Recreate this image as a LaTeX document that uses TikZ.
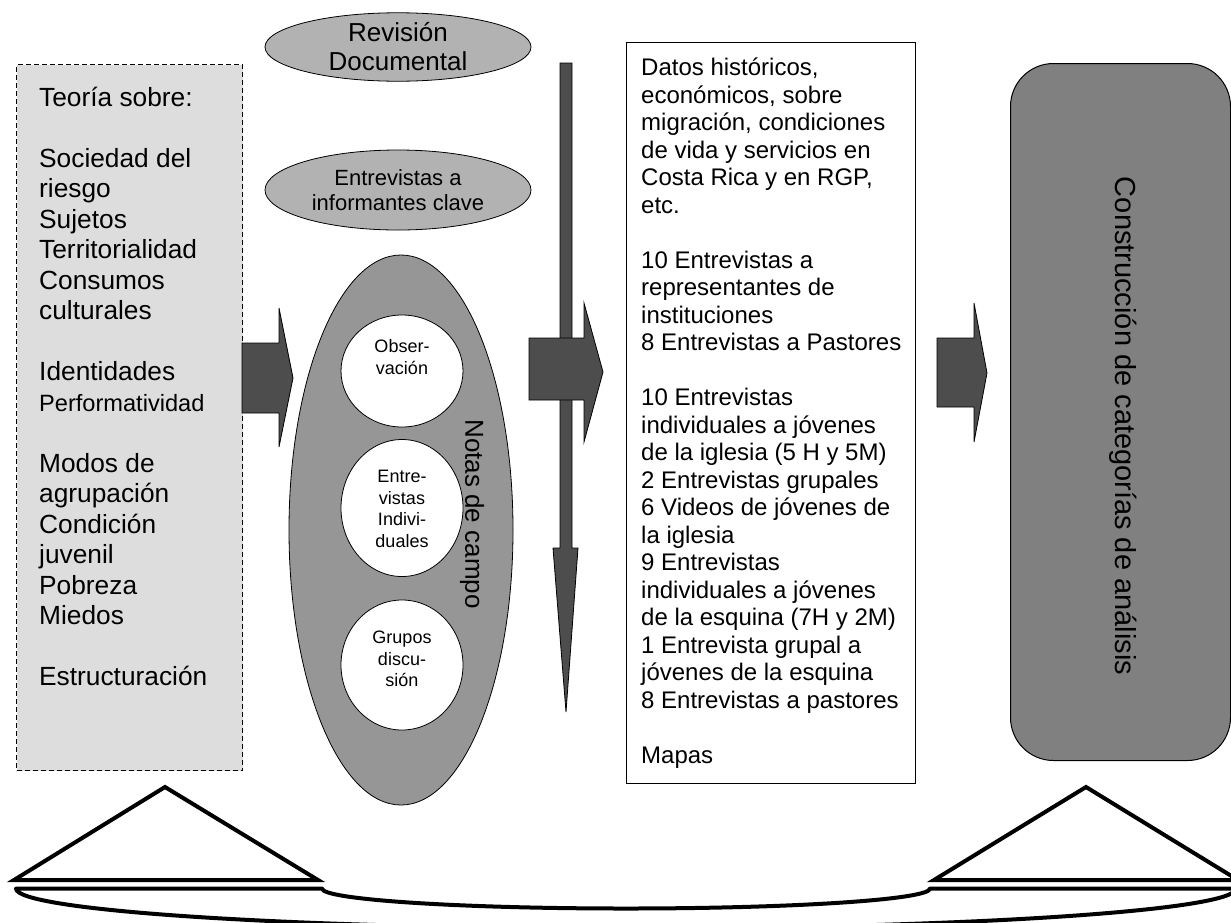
\documentclass[tikz,border=0pt]{standalone}
\usepackage{fontspec}
\setmainfont{Liberation Sans}
\usetikzlibrary{shapes.geometric}
\definecolor{boxgray}{HTML}{DDDDDD}
\definecolor{ellgray}{HTML}{B2B2B2}
\definecolor{bigell}{HTML}{969696}
\definecolor{arrowgray}{HTML}{4D4D4D}
\definecolor{rectgray}{HTML}{808080}
\begin{document}
\begin{tikzpicture}[x=1pt,y=-1pt,
  lefttxt/.style={inner sep=0pt, anchor=base west, font=\fontsize{26.3pt}{30.5pt}\selectfont},
  righttxt/.style={inner sep=0pt, anchor=base west, font=\fontsize{24pt}{27.5pt}\selectfont},
  blockarrow/.style={fill=arrowgray, draw=black, line width=0.8pt, line join=miter},
  topell/.style={ellipse, draw=black, line width=0.8pt, fill=ellgray, inner sep=0pt, align=center},
  circ/.style={ellipse, draw=black, line width=0.8pt, fill=white, inner sep=0pt},
  circtxt/.style={inner sep=0pt, align=center, font=\fontsize{18pt}{21.5pt}\selectfont},
  thick line/.style={line width=4pt, draw=black}
]
\useasboundingbox (0,0) rectangle (1231,922);
\clip (0,0) rectangle (1231,922);
\fill[white] (0,0) rectangle (1231,922);

% left theory box
\node[draw=black, dash pattern=on 5pt off 3pt, line width=1pt, fill=boxgray,
      anchor=north west, minimum width=226pt, minimum height=706pt, inner sep=0pt] (theory) at (16,64) {};
\foreach \i/\t in {0/{Teoría sobre:},2/{Sociedad del},3/{riesgo},4/{Sujetos},5/{Territorialidad},
  6/{Consumos},7/{culturales},9/{Identidades},12/{Modos de},13/{agrupación},14/{Condición},
  15/{juvenil},16/{Pobreza},17/{Miedos},19/{Estructuración}}
  \node[lefttxt] (L\i) at (39,106.4+30.5*\i) {\t};
\node[lefttxt, font=\fontsize{23.6pt}{30.5pt}\selectfont] (L10) at (39,106.4+30.5*10) {Performatividad};

% arrow 1
\draw[blockarrow] (242,343) -- (279,343) -- (279,308) -- (293,378) -- (279,447) -- (279,413) -- (242,413) -- cycle;

% top ellipses
\node[topell, minimum width=266pt, minimum height=66pt, font=\fontsize{26pt}{29pt}\selectfont] (rev) at (398,47) {Revisión\\Documental};
\node[topell, minimum width=266pt, minimum height=80pt, font=\fontsize{22pt}{24.5pt}\selectfont] (inf) at (398,190) {Entrevistas a\\informantes clave};

% big ellipse
\node[ellipse, draw=black, line width=0.8pt, fill=bigell, minimum width=224pt, minimum height=550pt, inner sep=0pt] (campo) at (401,530) {};
\node[circ, minimum width=122pt, minimum height=112pt] (obs) at (402,371) {};
\node[circ, minimum width=122pt, minimum height=137pt] (ent) at (402,508) {};
\node[circ, minimum width=122pt, minimum height=130pt] (gru) at (402,665) {};
\node[circtxt] (obst) at (402,357) {Obser-\\vación};
\node[circtxt] (entt) at (402,509) {Entre-\\vistas\\Indivi-\\duales};
\node[circtxt] (grut) at (402,659) {Grupos\\discu-\\sión};
\node[inner sep=0pt, rotate=-90, font=\fontsize{26pt}{30pt}\selectfont] (notas) at (472,514) {Notas de campo};

% vertical arrow
\draw[blockarrow] (560,63) -- (572,63) -- (572,548) -- (578,548) -- (566,712) -- (553,548) -- (560,548) -- cycle;
% arrow 2
\draw[blockarrow] (529,338) -- (584,338) -- (584,303) -- (603,372) -- (584,442) -- (584,400) -- (529,400) -- cycle;

% right data box
\node[draw=black, line width=1.2pt, fill=white, anchor=north west, minimum width=289pt, minimum height=741pt, inner sep=0pt] (datos) at (626,42) {};
\foreach \i/\t in {0/{Datos históricos,},1/{económicos, sobre},2/{migración, condiciones},
  3/{de vida y servicios en},4/{Costa Rica y en RGP,},5/{etc.},7/{10 Entrevistas a},
  8/{representantes de},9/{instituciones},10/{8 Entrevistas a Pastores},12/{10 Entrevistas},
  13/{individuales a jóvenes},14/{de la iglesia (5 H y 5M)},15/{2 Entrevistas grupales},
  16/{6 Videos de jóvenes de},17/{la iglesia},18/{9 Entrevistas},19/{individuales a jóvenes},
  20/{de la esquina (7H y 2M)},21/{1 Entrevista grupal a},22/{jóvenes de la esquina},
  23/{8 Entrevistas a pastores},25/{Mapas}}
  \node[righttxt] (R\i) at (641,75.6+27.5*\i) {\t};

% arrow 3
\draw[blockarrow] (937,338) -- (974,338) -- (974,303) -- (987,373) -- (974,442) -- (974,407) -- (937,407) -- cycle;

% rounded rectangle
\node[draw=black, line width=1pt, fill=rectgray, rounded corners=43pt, anchor=north west,
      minimum width=220pt, minimum height=697pt, inner sep=0pt] (cons) at (1010,63) {};
\node[inner sep=0pt, rotate=-90, font=\fontsize{29pt}{31pt}\selectfont] (const) at (1123,426) {Construcción de categorías de análisis};

% balance: triangles and ribbon
\draw[thick line, line join=miter] (14,880) -- (165,787) -- (318,880) -- cycle;
\draw[thick line, line join=miter] (934,880) -- (1086,787) -- (1238,880) -- cycle;
\draw[thick line, line join=round]
  (16,888.5) -- (322,888.5)
  .. controls (322,899.5) and (458,908.5) .. (626,908.5)
  .. controls (794,908.5) and (930,899.5) .. (930,888.5)
  -- (1236,888.5)
  .. controls (1236,910.6) and (963,928.5) .. (626,928.5)
  .. controls (289,928.5) and (16,910.6) .. (16,888.5) -- cycle;
\end{tikzpicture}
\end{document}
